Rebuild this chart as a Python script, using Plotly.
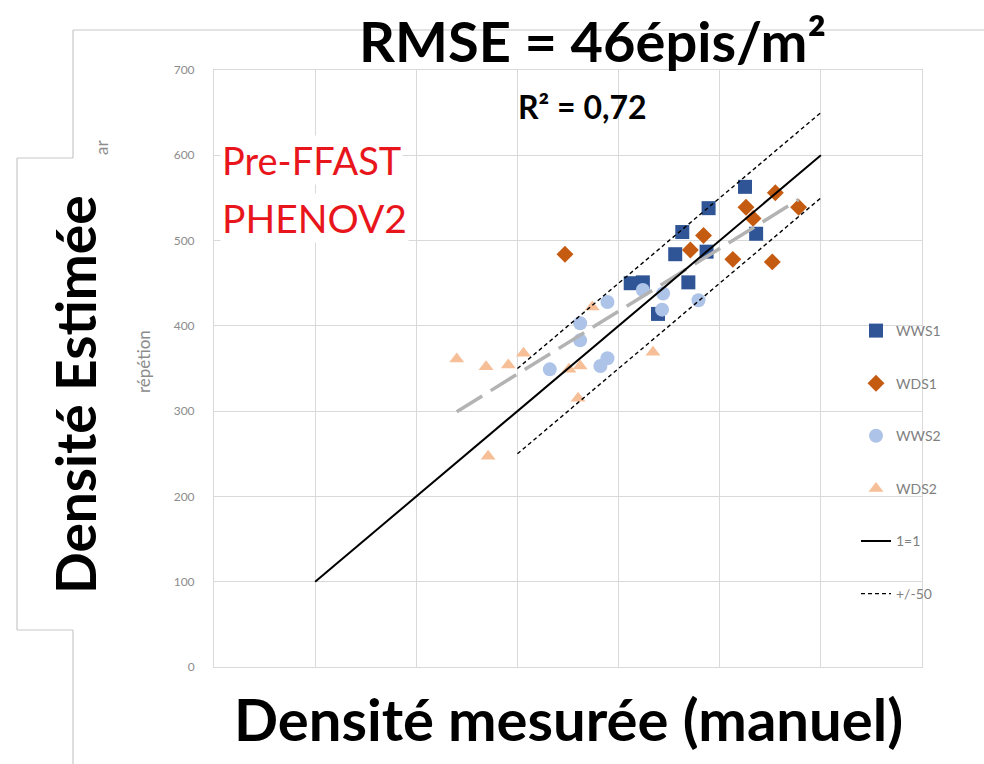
import numpy as np
import plotly.graph_objects as go

# ---------------- data ----------------
wws1_x = [525, 489, 463, 456, 487, 536, 469, 412, 424, 439]
wws1_y = [563, 538, 510, 484, 487, 508, 451, 450, 451, 414]

wds1_x = [347, 555, 526, 533, 484, 471, 513, 552, 578]
wds1_y = [484, 556, 539, 526, 506, 489, 478, 475, 539]

wws2_x = [389, 362, 362, 332, 382, 389, 424, 444, 443, 479]
wws2_y = [428, 403, 383, 349, 353, 362, 442, 438, 419, 430]

wds2_x = [240, 269, 291, 306, 351, 362, 360, 271, 374, 434]
wds2_y = [361, 352, 354, 368, 349, 353, 315, 247, 422, 369]

one_x = [100, 600]
one_y = [100, 600]
band_x = [300, 600]
band_offset = 50

y_ticks = [0, 100, 200, 300, 400, 500, 600, 700]

# ---------------- geometry helpers (layout only) ----------------
W, H = 984, 764
L, R, T, B = 214, 62, 70, 97
PW, PH = W - L - R, H - T - B


def px(x):
    return (x - L) / PW


def py(y):
    return (H - B - y) / PH


FONT = "Lato"

fig = go.Figure()

fig.add_trace(go.Scatter(x=wws1_x, y=wws1_y, mode="markers", name="WWS1",
                         legendgroup="a",
                         marker=dict(symbol="square", size=14, color="#2f5597")))
fig.add_trace(go.Scatter(x=wds1_x, y=wds1_y, mode="markers", name="WDS1",
                         legendgroup="b",
                         marker=dict(symbol="diamond", size=13, color="#c55a11")))
fig.add_trace(go.Scatter(x=wws2_x, y=wws2_y, mode="markers", name="WWS2",
                         legendgroup="c",
                         marker=dict(symbol="circle", size=14, color="#adc3e8")))
fig.add_trace(go.Scatter(x=wds2_x, y=wds2_y, mode="markers", name="WDS2",
                         legendgroup="d",
                         marker=dict(symbol="triangle-up", size=13, color="#f6bf98")))

# trendline (linear fit of all points)
all_x = np.array(wws1_x + wds1_x + wws2_x + wds2_x, dtype=float)
all_y = np.array(wws1_y + wds1_y + wws2_y + wds2_y, dtype=float)
a, b = np.polyfit(all_x, all_y, 1)
tx = np.array([all_x.min(), all_x.max()])
fig.add_trace(go.Scatter(x=tx, y=a * tx + b, mode="lines", showlegend=False,
                         line=dict(color="#b3b3b3", width=3.5, dash="30px,10px")))

fig.add_trace(go.Scatter(x=one_x, y=one_y, mode="lines", name="1=1",
                         legendgroup="e",
                         line=dict(color="black", width=2)))
fig.add_trace(go.Scatter(x=band_x, y=[v + band_offset for v in band_x], mode="lines",
                         name="+/-50", legendgroup="f",
                         line=dict(color="black", width=1.4, dash="4px,3px")))
fig.add_trace(go.Scatter(x=band_x, y=[v - band_offset for v in band_x], mode="lines",
                         name="+/-50", legendgroup="f", showlegend=False,
                         line=dict(color="black", width=1.4, dash="4px,3px")))

grid = "#d9d9d9"
fig.update_xaxes(range=[0, 700], dtick=100, showticklabels=False, showgrid=True,
                 gridcolor=grid, zeroline=False, showline=True, linecolor=grid,
                 mirror=True, ticks="")
fig.update_yaxes(range=[0, 700], tickvals=y_ticks, showgrid=True, gridcolor=grid,
                 zeroline=False, showline=True, linecolor=grid, mirror=True,
                 ticks="", ticklabelstandoff=16,
                 tickfont=dict(family=FONT, size=12, color="#8c8c8c"))

shapes = []
frame_pts = [(984, 30), (73, 30), (73, 158), (17, 158), (17, 630), (73, 630), (73, 764)]
for (x0, y0), (x1, y1) in zip(frame_pts[:-1], frame_pts[1:]):
    shapes.append(dict(type="line", xref="paper", yref="paper",
                       x0=px(x0), y0=py(y0), x1=px(x1), y1=py(y1),
                       line=dict(color="#c8c8c8", width=1.2), layer="below"))

ann = [
    dict(text="<b>RMSE = 46épis/m²</b>", x=px(592), y=py(40),
         font=dict(family=FONT, size=56, color="black")),
    dict(text="<b>R² = 0,72</b>", x=px(582), y=py(106),
         font=dict(family=FONT, size=32, color="black")),
    dict(text="Pre-FFAST", x=px(220), y=py(160), xanchor="left",
         font=dict(family=FONT, size=38, color="#e8161c"), bgcolor="white"),
    dict(text="PHENOV2", x=px(220), y=py(218), xanchor="left",
         font=dict(family=FONT, size=39, color="#e8161c"), bgcolor="white"),
    dict(text="<b>Densité mesurée (manuel)</b>", x=px(568), y=py(718),
         font=dict(family=FONT, size=58, color="black")),
    dict(text="<b>Densité Estimée</b>", x=px(75), y=py(395), textangle=-90,
         font=dict(family=FONT, size=55, color="black")),
    dict(text="répétion", x=px(143), y=py(362), textangle=-90,
         font=dict(family=FONT, size=17, color="#8c8c8c")),
    dict(text="ar", x=px(101), y=py(148), textangle=-90,
         font=dict(family=FONT, size=17, color="#8c8c8c")),
]
for a_ in ann:
    a_.update(xref="paper", yref="paper", showarrow=False)
    a_.setdefault("xanchor", "center")
    a_.setdefault("yanchor", "middle")

fig.update_layout(
    width=W, height=H,
    margin=dict(l=L, r=R, t=T, b=B, autoexpand=False),
    paper_bgcolor="white", plot_bgcolor="white",
    shapes=shapes, annotations=ann,
    legend=dict(x=px(856), y=py(315), xanchor="left", yanchor="top",
                bgcolor="rgba(0,0,0,0)", tracegroupgap=31.4,
                font=dict(family=FONT, size=14, color="#7f7f7f")),
)

fig.write_html("out.html")
